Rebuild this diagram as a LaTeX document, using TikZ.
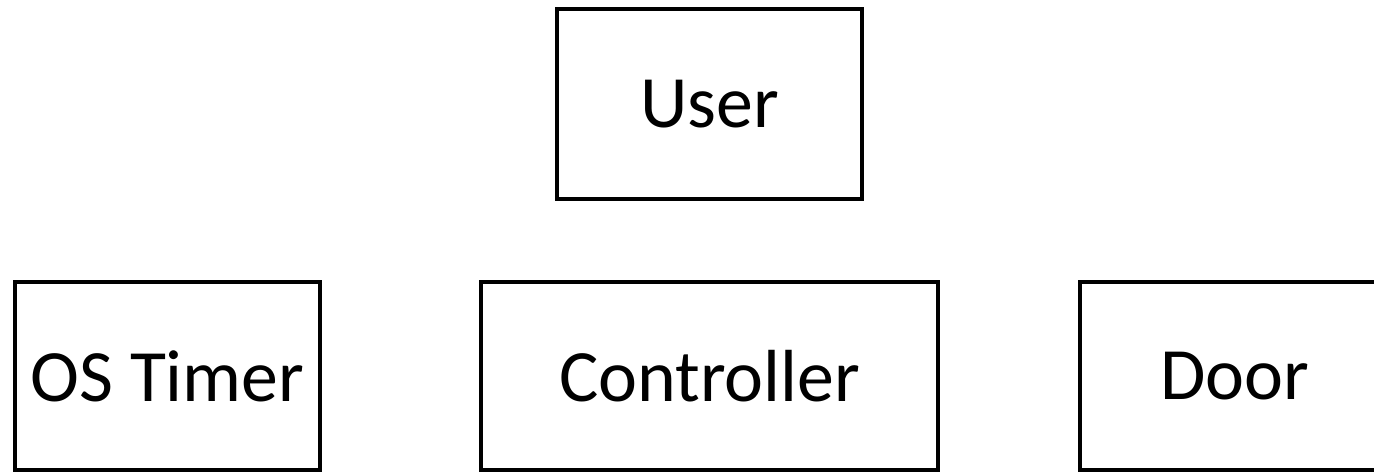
\documentclass[tikz,border=0pt]{standalone}
\usepackage{fontspec}
\setmainfont{Carlito}
\usetikzlibrary{positioning}

\begin{document}
\begin{tikzpicture}[node distance=0.83cm and 1.5cm,
  box/.style={draw, line width=1.15pt, outer sep=0pt, minimum height=1.88cm,
    text centered, font=\fontsize{21}{25}\selectfont}]

\useasboundingbox (0,0) rectangle (13.74,4.73);
\clip (0,0) rectangle (13.74,4.73);

% Nodes
\node (controller) [box, minimum width=4.57cm] at (7.095,0.97) {Controller};
\node (user) [box, minimum width=3.05cm, minimum height=1.90cm, above=of controller] {User};
\node (timer) [box, minimum width=3.05cm, left=1.61cm of controller] {OS Timer};
\node (door) [box, minimum width=3.10cm, right=1.42cm of controller] {Door};

\end{tikzpicture}
\end{document}
